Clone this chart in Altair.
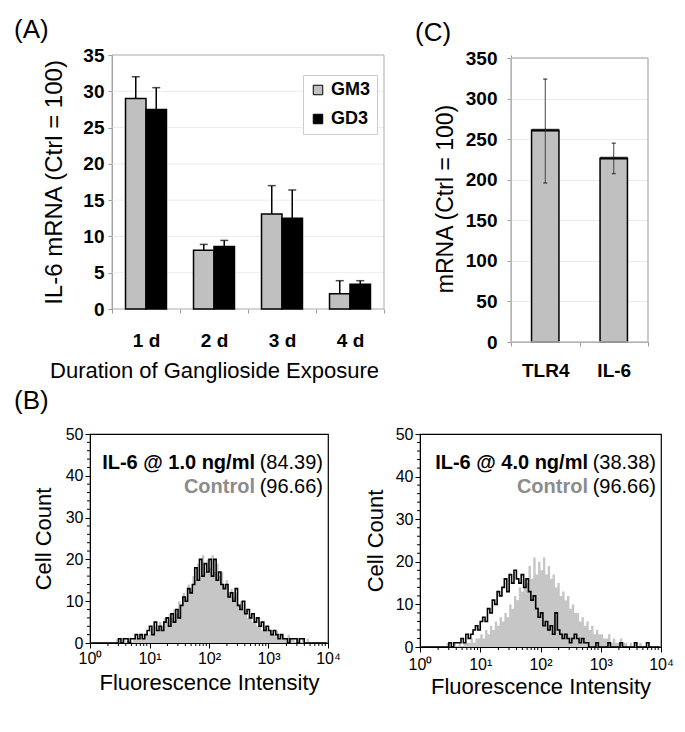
import altair as alt
import pandas as pd

FONT = "Liberation Sans"

# ---------------- Panel A data ----------------
days = ["1 d", "2 d", "3 d", "4 d"]
series_a = ["GM3", "GD3"]
gm3_mean = [29.0, 8.1, 13.1, 2.1]
gm3_upper = [32.0, 8.9, 17.0, 3.9]
gd3_mean = [27.5, 8.6, 12.5, 3.4]
gd3_upper = [30.5, 9.45, 16.4, 3.9]
a_ticks = [0, 5, 10, 15, 20, 25, 30, 35]

# ---------------- Panel C data ----------------
genes = ["TLR4", "IL-6"]
gene_mean = [261, 226.5]
gene_low = [196, 207.5]
gene_high = [324, 245]
c_ticks = [0, 50, 100, 150, 200, 250, 300, 350]

# ---------------- Panel B data (flow histograms, 25 bins per decade) ----------------
bins_per_decade = 25
control_counts = [
    0, 0, 0, 0, 0, 0, 0, 0, 0, 0,
    0, 1, 0, 0, 1, 0, 1, 0, 1, 1,
    1, 2, 1, 2, 2, 3, 2, 4, 3, 5,
    4, 6, 5, 7, 6, 8, 7, 10, 9, 12,
    11, 14, 13, 16, 15, 19, 16, 21, 17, 20,
    18, 21, 17, 19, 16, 17, 14, 15, 12, 13,
    11, 12, 9, 10, 8, 8, 6, 7, 5, 6,
    4, 5, 3, 4, 3, 3, 2, 2, 3, 1,
    2, 1, 1, 2, 1, 1, 0, 1, 0, 1,
    0, 1, 0, 0, 0, 0, 0, 0, 0, 0,
]
il6_low_counts = [
    0, 0, 0, 0, 0, 0, 0, 0, 0, 0,
    0, 0, 1, 0, 1, 1, 0, 1, 1, 2,
    1, 2, 1, 2, 3, 4, 2, 5, 3, 4,
    3, 5, 6, 4, 7, 5, 8, 6, 9, 11,
    10, 13, 12, 14, 18, 15, 20, 16, 19, 17,
    20, 16, 20, 15, 17, 14, 13, 14, 11, 12,
    10, 13, 9, 8, 10, 7, 8, 6, 7, 5,
    6, 4, 5, 3, 4, 3, 2, 3, 2, 1,
    2, 1, 1, 0, 1, 1, 1, 0, 1, 1,
    0, 0, 0, 0, 0, 0, 0, 0, 0, 0,
]
il6_high_counts = [
    0, 0, 0, 0, 0, 0, 0, 0, 0, 0,
    0, 0, 1, 0, 1, 1, 1, 2, 1, 3,
    2, 3, 4, 5, 4, 6, 7, 6, 9, 8,
    11, 10, 13, 12, 14, 16, 13, 17, 15, 18,
    16, 15, 17, 14, 16, 13, 11, 12, 9, 7,
    8, 5, 6, 4, 5, 3, 8, 4, 3, 2,
    3, 2, 1, 2, 3, 2, 1, 2, 1, 1,
    0, 0, 0, 1, 0, 0, 0, 0, 1, 0,
    0, 0, 0, 1, 0, 0, 0, 0, 0, 1,
    0, 0, 0, 0, 1, 0, 0, 0, 0, 0,
]
decade_ticks = [1, 10, 100, 1000, 10000]
decade_labels = ["10\u2070", "10\u00b9", "10\u00b2", "10\u00b3", "10\u2074"]
count_ticks = [0, 10, 20, 30, 40, 50]


def panel_label(text, x, y):
    return alt.Chart(pd.DataFrame({"t": [text]})).mark_text(
        align="left", baseline="middle", fontSize=26, font=FONT, color="black"
    ).encode(x=alt.value(x), y=alt.value(y), text="t:N")


# ================= Panel A =================
A_SHIFT = 22          # plot drawn 22 px right of the group origin (aligns with panel B)
A_W, A_H = 272 + A_SHIFT, 254
dfA = pd.DataFrame({
    "day": days * 2,
    "series": [series_a[0]] * 4 + [series_a[1]] * 4,
    "mean": gm3_mean + gd3_mean,
    "upper": gm3_upper + gd3_upper,
})
x_axis_A = alt.Axis(title="Duration of Ganglioside Exposure", labelAngle=0, tickBand="extent",
                    labelFontWeight="bold", labelFontSize=19, labelPadding=18, labelColor="black",
                    labelOverlap=False, domain=False,
                    titleFontSize=22, titleFontWeight="normal", titleX=124, titlePadding=10,
                    titleColor="black", tickColor="#999", tickSize=4)
y_axis_A = alt.Axis(values=a_ticks, title="IL-6 mRNA (Ctrl = 100)", offset=-A_SHIFT,
                    labelFontWeight="bold", labelFontSize=19, labelPadding=4, labelColor="black",
                    labelOverlap=False, labelFlush=False,
                    titleFontSize=24, titleFontWeight="normal", titlePadding=16, titleColor="black",
                    grid=False, domainColor="#999", tickColor="#999", tickSize=4)
xA = alt.X("day:N", sort=days, scale=alt.Scale(paddingInner=0, paddingOuter=0, range=[A_SHIFT, A_W]),
           axis=x_axis_A)
xoffA = alt.XOffset("series:N", sort=series_a, scale=alt.Scale(paddingInner=0, paddingOuter=0.66))
yscaleA = alt.Scale(domain=[0, 35], nice=False)
baseA = alt.Chart(dfA)
gridA = alt.Chart(pd.DataFrame({"g": a_ticks[1:-1]})).mark_rule(color="#ececec", strokeWidth=1).encode(
    y=alt.Y("g:Q", scale=yscaleA, axis=y_axis_A), x=alt.value(A_SHIFT), x2=alt.value(A_W))
frameA = alt.Chart(pd.DataFrame({"top": [35], "bottom": [0]})).mark_rect(
    filled=False, stroke="#aaaaaa", strokeWidth=1).encode(
    y=alt.Y("top:Q", scale=yscaleA, axis=y_axis_A), y2="bottom:Q",
    x=alt.value(A_SHIFT), x2=alt.value(A_W))
barsA = baseA.mark_bar(stroke="black", strokeWidth=1.5).encode(
    x=xA, xOffset=xoffA, y=alt.Y("mean:Q", scale=yscaleA, axis=y_axis_A),
    color=alt.Color("series:N", sort=series_a,
                    scale=alt.Scale(domain=series_a, range=["#c0c0c0", "#000000"]),
                    legend=alt.Legend(orient="none", legendX=191 + A_SHIFT, legendY=20, title=None,
                                      strokeColor="#cccccc", fillColor="white", padding=6,
                                      symbolType="square", symbolSize=90, symbolStrokeColor="black",
                                      symbolStrokeWidth=1, labelFontSize=18, labelFontWeight="bold",
                                      labelFont=FONT, labelColor="black", rowPadding=11, labelOffset=4)),
)
errA = baseA.mark_rule(color="black", strokeWidth=1.5).encode(
    x=xA, xOffset=xoffA, y=alt.Y("mean:Q", scale=yscaleA, axis=y_axis_A), y2="upper:Q")
capA = baseA.mark_tick(color="black", thickness=1.5, size=8).encode(
    x=xA, xOffset=xoffA, y=alt.Y("upper:Q", scale=yscaleA, axis=y_axis_A))
chartA = alt.layer(gridA, frameA, barsA, errA, capA, panel_label("(A)", -98 + A_SHIFT, -25)).properties(
    width=A_W, height=A_H, view=alt.ViewBackground(stroke=None))

# ================= Panel C =================
C_W, C_H = 137, 287
dfC = pd.DataFrame({"gene": genes, "mean": gene_mean, "low": gene_low, "high": gene_high})
xC = alt.X("gene:N", sort=genes, scale=alt.Scale(paddingInner=0, paddingOuter=0),
           axis=alt.Axis(title=None, labelAngle=0, tickBand="extent", labelFontWeight="bold",
                         labelFontSize=19, labelPadding=15, labelColor="black", labelOverlap=False,
                         domainColor="#999", tickColor="#999", tickSize=4))
y_axis_C = alt.Axis(values=c_ticks, title="mRNA (Ctrl = 100)",
                    labelFontWeight="bold", labelFontSize=19, labelPadding=10, labelColor="black",
                    labelOverlap=False, labelFlush=False,
                    titleFontSize=23, titleFontWeight="normal", titlePadding=8, titleColor="black",
                    grid=True, gridColor="#ececec", domainColor="#999", tickColor="#999", tickSize=4)
yscaleC = alt.Scale(domain=[0, 353.7], nice=False)
baseC = alt.Chart(dfC)
frameC = baseC.mark_rect(filled=False, stroke="#bbbbbb", strokeWidth=1).encode(
    x=alt.value(0), x2=alt.value(C_W), y=alt.datum(350), y2=alt.datum(0))
barsC = baseC.mark_bar(width=alt.RelativeBandSize(0.4), color="#c0c0c0",
                       stroke="black", strokeWidth=1.5).encode(
    x=xC, y=alt.Y("mean:Q", scale=yscaleC, axis=y_axis_C))
topC = baseC.mark_tick(color="black", thickness=3, size=27.4).encode(
    x=xC, y=alt.Y("mean:Q", scale=yscaleC, axis=y_axis_C))
errC = baseC.mark_rule(color="#444444", strokeWidth=1).encode(
    x=xC, y=alt.Y("low:Q", scale=yscaleC, axis=y_axis_C), y2="high:Q")
capLowC = baseC.mark_tick(color="#222222", thickness=1.5, size=4).encode(
    x=xC, y=alt.Y("low:Q", scale=yscaleC, axis=y_axis_C))
capHighC = baseC.mark_tick(color="#222222", thickness=1.5, size=4).encode(
    x=xC, y=alt.Y("high:Q", scale=yscaleC, axis=y_axis_C))
chartC = alt.layer(barsC, frameC, errC, topC, capLowC, capHighC, panel_label("(C)", -96, -22)).properties(
    width=C_W, height=C_H, view=alt.ViewBackground(stroke=None))

# ================= Panel B =================
intensity = [10 ** ((i + 0.5) / bins_per_decade) for i in range(len(control_counts))]
minor_x = [m * d for d in decade_ticks[:-1] for m in range(2, 10)]
minor_y = [v for v in range(0, 51, 2) if v % 10 != 0]
label_expr_x = " : ".join(
    f"datum.value == {v} ? '{lab}'" for v, lab in zip(decade_ticks, decade_labels)) + " : ''"


def flow_panel(sample_counts, bold_text, value_text, width, height, letter=None,
               x_label_pad=2, x_title_pad=8, y_title_pad=10):
    df = pd.DataFrame({"intensity": intensity, "control": control_counts, "sample": sample_counts})
    xscale = alt.Scale(type="log", domain=[1, 10000], nice=False)
    yscale = alt.Scale(domain=[0, 50], nice=False)
    x_axis = alt.Axis(values=decade_ticks, labelExpr=label_expr_x, labelOverlap=False,
                      labelFlush=False,
                      labelFontSize=16, labelColor="black", labelPadding=x_label_pad,
                      tickSize=5, tickColor="black", domainColor="black",
                      title="Fluorescence Intensity", titleFontSize=22, titleFontWeight="normal",
                      titleColor="black", titlePadding=x_title_pad, grid=False)
    y_axis = alt.Axis(values=count_ticks, labelOverlap=False, labelFlush=False,
                      labelFontSize=16, labelColor="black", labelPadding=2,
                      tickSize=5, tickColor="black", domainColor="black",
                      title="Cell Count", titleFontSize=22, titleFontWeight="normal",
                      titleColor="black", titlePadding=y_title_pad, grid=False)
    x = alt.X("intensity:Q", scale=xscale, axis=x_axis)
    base = alt.Chart(df)
    area = base.mark_area(interpolate="step", color="#c6c6c6").encode(
        x=x, y=alt.Y("control:Q", scale=yscale, axis=y_axis))
    line = base.mark_line(interpolate="step", color="black", strokeWidth=1.6).encode(
        x=x, y=alt.Y("sample:Q", scale=yscale, axis=y_axis))
    mx = alt.Chart(pd.DataFrame({"m": minor_x})).mark_rule(color="black", strokeWidth=1).encode(
        x=alt.X("m:Q", scale=xscale, axis=x_axis), y=alt.value(height), y2=alt.value(height + 3))
    my = alt.Chart(pd.DataFrame({"m": minor_y})).mark_rule(color="black", strokeWidth=1).encode(
        y=alt.Y("m:Q", scale=yscale, axis=y_axis), x=alt.value(-3), x2=alt.value(0))
    txt = pd.DataFrame({"a": [bold_text], "b": [value_text], "c": ["Control"], "d": ["(96.66)"]})
    tb = alt.Chart(txt)
    right = width - 5
    shift = 68
    t1 = tb.mark_text(align="right", baseline="middle", fontSize=20, font=FONT, color="black").encode(
        x=alt.value(right), y=alt.value(29), text="b:N")
    t2 = tb.mark_text(align="right", baseline="middle", fontSize=20, font=FONT, fontWeight="bold",
                      color="black").encode(x=alt.value(right - shift), y=alt.value(29), text="a:N")
    t3 = tb.mark_text(align="right", baseline="middle", fontSize=20, font=FONT, color="black").encode(
        x=alt.value(right), y=alt.value(53), text="d:N")
    t4 = tb.mark_text(align="right", baseline="middle", fontSize=20, font=FONT, fontWeight="bold",
                      color="#8c8c8c").encode(x=alt.value(right - shift), y=alt.value(53), text="c:N")
    layers = [area, line, mx, my, t1, t2, t3, t4]
    if letter:
        layers.append(panel_label(letter, -76, -33))
    return alt.layer(*layers).properties(
        width=width, height=height, view=alt.ViewBackground(stroke="black", strokeWidth=1.2))


chartB1 = flow_panel(il6_low_counts, "IL-6 @ 1.0 ng/ml", "(84.39)", 238, 209, letter="(B)",
                     x_label_pad=2, x_title_pad=6, y_title_pad=10)
chartB2 = flow_panel(il6_high_counts, "IL-6 @ 4.0 ng/ml", "(38.38)", 241, 213,
                     x_label_pad=4, x_title_pad=4, y_title_pad=8)

row1 = alt.hconcat(chartA, chartC, spacing=30)
row2 = alt.hconcat(chartB1, chartB2, spacing=22)
chart = alt.vconcat(row1, row2, spacing=6).properties(
    padding={"left": 5, "top": 9, "right": 2, "bottom": 2}
).configure(font=FONT).configure_axis(labelFont=FONT, titleFont=FONT, labelOverlap=False)

chart.save("out.html", embed_options={"renderer": "svg", "actions": False})
